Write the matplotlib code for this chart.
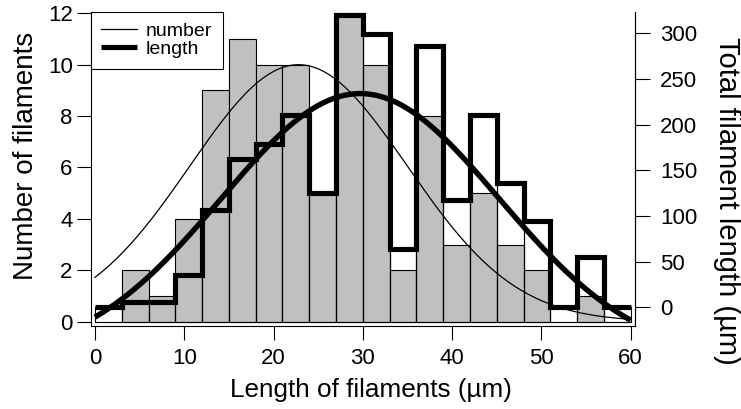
import numpy as np
import matplotlib
matplotlib.use("Agg")
import matplotlib.pyplot as plt
from matplotlib.lines import Line2D

plt.rcParams['font.family'] = ['Liberation Sans', 'DejaVu Sans']

# Histogram bins (µm)
bin_edges = [0, 3, 6, 9, 12, 15, 18, 21, 24, 27, 30, 33, 36, 39, 42, 45, 48, 51, 54, 57, 60]
# Number of filaments per bin (left axis, grey bars)
filament_counts = [0, 2, 1, 4, 9, 11, 10, 10, 5, 12, 10, 2, 8, 3, 5, 3, 2, 0, 1, 0]
# Total filament length per bin in µm (right axis, thick outline)
total_length = [0, 6, 6, 35, 107, 162, 179, 210, 125, 320, 299, 64, 286, 117, 210, 136, 94, 0, 55, 0]

# Gaussian fits, y0 + A*exp(-((x - x0)/width)^2)
number_fit = {"y0": 0.0, "A": 10.0, "x0": 22.8, "width": 17.2}
length_fit = {"y0": -58.0, "A": 292.0, "x0": 29.7, "width": 22.0}

x_ticks = [0, 10, 20, 30, 40, 50, 60]
count_ticks = [0, 2, 4, 6, 8, 10, 12]
length_ticks = [0, 50, 100, 150, 200, 250, 300]


def gauss(x, p):
    return p["y0"] + p["A"] * np.exp(-((x - p["x0"]) / p["width"]) ** 2)


W, H = 741, 409
fig = plt.figure(figsize=(W / 100, H / 100), dpi=100)
left, right, top, bottom = 90.7, 635.0, 12.0, 326.0
ax = fig.add_axes([left / W, (H - bottom) / H, (right - left) / W, (bottom - top) / H])
ax2 = ax.twinx()

ax.set_xlim(-0.48, 60.48)
ax.set_ylim(-0.167, 12.05)
ax2.set_ylim(-20.5, 323.3)

edges = np.array(bin_edges, dtype=float)
widths = np.diff(edges)

# grey count histogram
ax.bar(edges[:-1], filament_counts, width=widths, align='edge',
       color='#c0c0c0', edgecolor='black', linewidth=0.8, zorder=2)

# fitted number curve
xs = np.linspace(bin_edges[0], bin_edges[-1], 400)
ax.plot(xs, gauss(xs, number_fit), color='black', lw=0.9, zorder=3)

# length histogram: thin bar outlines from the count baseline, thick top outline
base_disp = ax.transData.transform((0, 0))
base_len = ax2.transData.inverted().transform(base_disp)[1]
lengths = np.array(total_length, dtype=float)
ax2.bar(edges[:-1], lengths - base_len, bottom=base_len, width=widths, align='edge',
        facecolor='none', edgecolor='black', linewidth=0.8, zorder=2)
ax2.stairs(lengths, edges, baseline=None, color='black', lw=3.7, zorder=3,
           joinstyle='miter')

# fitted length curve
ax2.plot(xs, gauss(xs, length_fit), color='black', lw=3.9, zorder=4,
         solid_capstyle='butt')

# axes styling
for a in (ax, ax2):
    a.spines['top'].set_visible(False)
    for s in a.spines.values():
        s.set_linewidth(0.8)
ax2.spines['left'].set_visible(False)
ax2.spines['bottom'].set_visible(False)

ax.set_xticks(x_ticks)
ax.set_yticks(count_ticks)
ax2.set_yticks(length_ticks)
ax.tick_params(axis='both', direction='out', length=10, width=0.8, labelsize=16)
ax.tick_params(axis='y', pad=3)
ax.tick_params(axis='x', pad=6)
ax2.tick_params(axis='y', direction='out', length=11, width=0.8, labelsize=16, pad=7)

# axis titles
fig.text(371 / W, 1 - 396.5 / H, 'Length of filaments (µm)', fontsize=18.8,
         ha='center', va='baseline')
fig.text(33.0 / W, 1 - 156 / H, 'Number of filaments', fontsize=20,
         rotation=90, rotation_mode='anchor', ha='center', va='baseline')
fig.text(719.0 / W, 1 - 201 / H, 'Total filament length (µm)', fontsize=21,
         rotation=270, rotation_mode='anchor', ha='center', va='baseline')

handles = [Line2D([], [], color='black', lw=0.9),
           Line2D([], [], color='black', lw=3.7, solid_capstyle='butt')]
leg = ax2.legend(handles, ['number', 'length'], loc='upper left',
                 bbox_to_anchor=(0, 1), borderaxespad=0, fancybox=False,
                 framealpha=1, edgecolor='black', fontsize=14,
                 handlelength=1.85, handletextpad=0.45, labelspacing=0.0,
                 borderpad=0.55)
leg.get_frame().set_linewidth(0.8)
leg.set_zorder(10)

fig.savefig('out.png', dpi=100)
